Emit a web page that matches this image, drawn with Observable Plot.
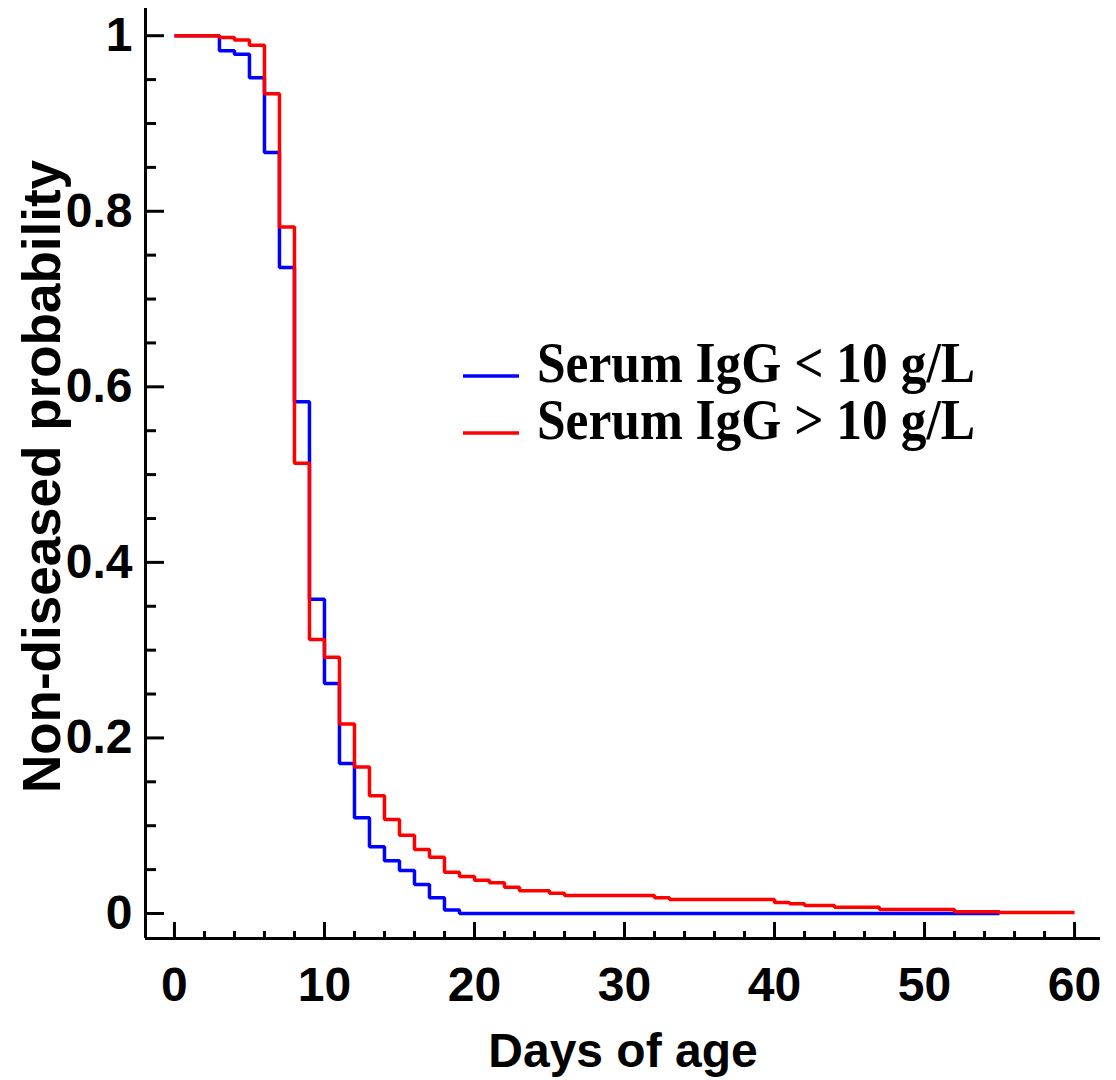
<!DOCTYPE html>
<html>
<head>
<meta charset="utf-8">
<script src="https://cdn.jsdelivr.net/npm/d3@7"></script>
<script src="https://cdn.jsdelivr.net/npm/@observablehq/plot@0.6"></script>
<style>
  html, body { margin: 0; padding: 0; background: #fff; }
  #wrap { position: relative; width: 1116px; height: 1080px; }
  #legend { position: absolute; left: 0; top: 0; pointer-events: none; }
</style>
</head>
<body>
<div id="wrap"></div>
<script>
// ---- data ----
const seriesNames = ["Serum IgG < 10 g/L", "Serum IgG > 10 g/L"];
const seriesColors = ["#0000ff", "#ff0000"];

const lowDays = [0, 3, 4, 5, 6, 7, 8, 9, 10, 11, 12, 13, 14, 15, 16, 17, 18, 19, 55];
const lowSurv = [1.0, 0.983, 0.979, 0.952, 0.867, 0.736, 0.583, 0.358, 0.262, 0.171, 0.109, 0.076, 0.060, 0.049, 0.033, 0.018, 0.004, 0.0, 0.0];

const highDays = [0, 3, 4, 5, 6, 7, 8, 9, 10, 11, 12, 13, 14, 15, 16, 17, 18, 19, 20, 21, 22, 23, 25, 26, 32, 33, 40, 41, 42, 44, 47, 52, 55, 60];
const highSurv = [1.0, 0.998, 0.995, 0.989, 0.934, 0.782, 0.513, 0.312, 0.292, 0.216, 0.167, 0.134, 0.107, 0.089, 0.073, 0.064, 0.047, 0.042, 0.038, 0.035, 0.030, 0.026, 0.023, 0.0205, 0.018, 0.016, 0.0125, 0.011, 0.009, 0.007, 0.0045, 0.002, 0.001, 0.001];

const xMajor = [0, 10, 20, 30, 40, 50, 60];
const xMinor = [2, 4, 6, 8, 12, 14, 16, 18, 22, 24, 26, 28, 32, 34, 36, 38, 42, 44, 46, 48, 52, 54, 56, 58];
const yMajor = [0, 0.2, 0.4, 0.6, 0.8, 1];
const yMajorLabels = ["0", "0.2", "0.4", "0.6", "0.8", "1"];
const yMinor = [0.05, 0.1, 0.15, 0.25, 0.3, 0.35, 0.45, 0.5, 0.55, 0.65, 0.7, 0.75, 0.85, 0.9, 0.95];

const xTitle = "Days of age";
const yTitle = "Non-diseased probability";

// ---- layout ----
const W = 1116, H = 1080;
const mL = 145, mR = 16, mT = 8, mB = 142;
const frameW = W - mL - mR, frameH = H - mT - mB;
const xDomain = [-1.93, 61.73];
const yDomain = [-0.0285, 1.031];

const low = lowDays.map((d, i) => ({day: d, p: lowSurv[i]}));
const high = highDays.map((d, i) => ({day: d, p: highSurv[i]}));

const chart = Plot.plot({
  width: W,
  height: H,
  marginLeft: mL, marginRight: mR, marginTop: mT, marginBottom: mB,
  x: {domain: xDomain, axis: null},
  y: {domain: yDomain, axis: null},
  style: {fontFamily: "'Liberation Sans', Arial, sans-serif", fontWeight: "bold", color: "#000", background: "#fff"},
  marks: [
    // curves
    Plot.line(low, {x: "day", y: "p", curve: "step-after", stroke: seriesColors[0], strokeWidth: 3.5, strokeLinejoin: "miter", strokeLinecap: "butt"}),
    Plot.line(high, {x: "day", y: "p", curve: "step-after", stroke: seriesColors[1], strokeWidth: 3.5, strokeLinejoin: "miter", strokeLinecap: "butt"}),
    // axis lines
    Plot.ruleX([xDomain[0]], {stroke: "#000", strokeWidth: 3}),
    Plot.ruleY([yDomain[0]], {stroke: "#000", strokeWidth: 3}),
    // x ticks (inward)
    Plot.ruleX(xMajor, {x: d => d, stroke: "#000", strokeWidth: 3, insetTop: frameH - 16}),
    Plot.ruleX(xMinor, {x: d => d, stroke: "#000", strokeWidth: 3, insetTop: frameH - 7}),
    // y ticks (inward)
    Plot.ruleY(yMajor, {y: d => d, stroke: "#000", strokeWidth: 3, insetRight: frameW - 19}),
    Plot.ruleY(yMinor, {y: d => d, stroke: "#000", strokeWidth: 3, insetRight: frameW - 11}),
    // tick labels
    Plot.text(xMajor, {x: d => d, frameAnchor: "bottom", lineAnchor: "top", dy: 28, text: d => String(d), fontSize: 48, fill: "#000"}),
    Plot.text(yMajor, {y: d => d, frameAnchor: "left", textAnchor: "end", dx: -13, text: (d, i) => yMajorLabels[i], fontSize: 48, fill: "#000"}),
    // axis titles
    Plot.text([xTitle], {frameAnchor: "bottom", lineAnchor: "top", dy: 94, text: d => d, fontSize: 48, fill: "#000"}),
    Plot.text([yTitle], {frameAnchor: "left", textAnchor: "middle", rotate: -90, dx: -102, dy: 3, text: d => d, fontSize: 53, fill: "#000"})
  ]
});

const wrap = document.getElementById("wrap");
wrap.appendChild(chart);

// ---- legend overlay ----
const legendRows = [376, 433];
const leg = d3.select(wrap).append("svg")
  .attr("id", "legend")
  .attr("width", W).attr("height", H);
seriesNames.forEach((name, i) => {
  const yy = legendRows[i];
  leg.append("line")
    .attr("x1", 463).attr("x2", 519)
    .attr("y1", yy).attr("y2", yy)
    .attr("stroke", seriesColors[i]).attr("stroke-width", 3.5);
  leg.append("text")
    .attr("x", 537).attr("y", yy + 6)
    .attr("font-family", "'Liberation Serif', 'Times New Roman', serif")
    .attr("font-weight", "bold")
    .attr("font-size", 56)
    .attr("textLength", 438)
    .attr("lengthAdjust", "spacingAndGlyphs")
    .attr("fill", "#000")
    .text(name);
});
</script>
</body>
</html>
